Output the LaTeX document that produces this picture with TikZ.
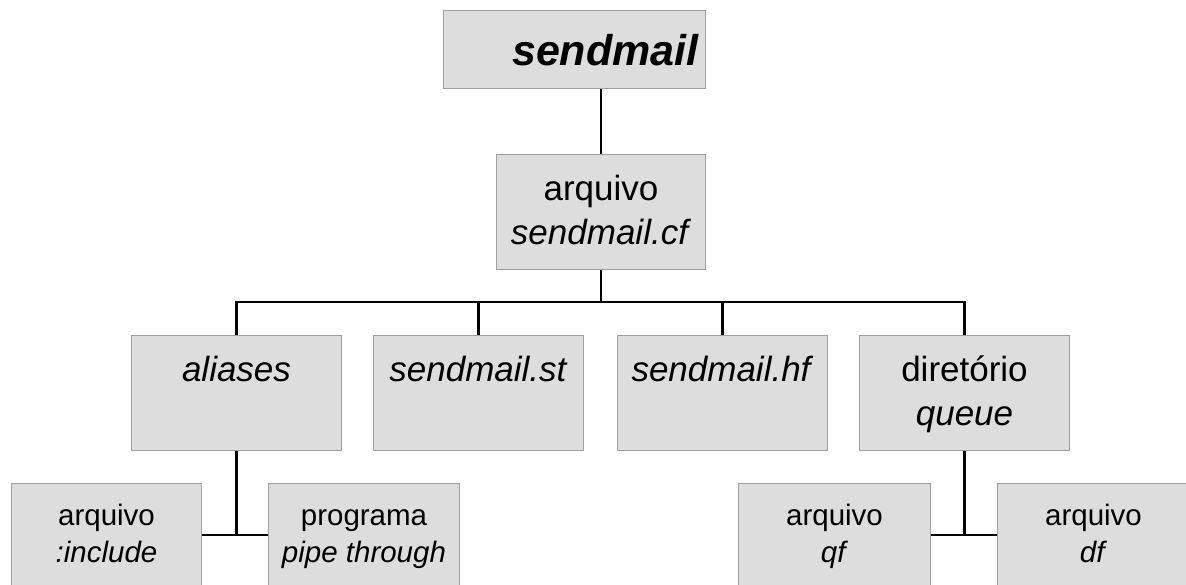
\documentclass[tikz,border=0pt]{standalone}
\usepackage{fontspec}
\setmainfont{Liberation Sans}
\usetikzlibrary{positioning}
\definecolor{boxgray}{RGB}{221,221,221}
\definecolor{edgegray}{RGB}{160,160,160}

\begin{document}
\begin{tikzpicture}[x=1pt,y=-1pt]
  \tikzstyle{box}=[draw=edgegray,line width=1pt,fill=boxgray,inner sep=0pt,align=center,
    minimum width=210pt,anchor=north west]
  \tikzstyle{mid}=[box,font=\fontsize{35}{44}\selectfont,text height=90pt,text depth=25pt]
  \tikzstyle{midone}=[box,font=\fontsize{35}{44}\selectfont,text height=46pt,text depth=69pt]
  \tikzstyle{leaf}=[box,font=\fontsize{29.5}{37}\selectfont,minimum width=191pt,text height=79pt,text depth=36pt]
  \tikzstyle{wire}=[line width=2.8pt,black]
  \useasboundingbox (0,0) rectangle (1186,584);
  \node[box,font=\fontsize{43}{50}\selectfont\bfseries\itshape,text width=248pt,inner xsep=7pt,
    align=right,text height=55pt,text depth=23pt] (sendmail) at (443,10) {sendmail};
  \node[mid,minimum width=209pt] (cf) at (496,154) {arquivo\\\textit{sendmail.cf}};
  \node[midone] (aliases) at (131,335) {\textit{aliases}};
  \node[midone] (st) at (373,335) {\textit{sendmail.st}};
  \node[midone] (hf) at (617,335) {\textit{sendmail.hf}};
  \node[mid] (queue) at (859,335) {diret\'orio\\\textit{queue}};
  \node[leaf,minimum width=190pt] (include) at (11,483) {arquivo\\\textit{:include}};
  \node[leaf] (pipe) at (268,483) {programa\\\textit{pipe through}};
  \node[leaf,minimum width=192pt] (qf) at (738,483) {arquivo\\\textit{qf}};
  \node[leaf,minimum width=192pt] (df) at (997,483) {arquivo\\\textit{df}};
  % ligacoes
  \coordinate (bus) at (600,302);
  \draw[wire] (sendmail.south -| cf.north) -- (cf.north);
  \draw[wire] (cf.south) -- (cf.south |- bus);
  \draw[wire] (aliases.north) -- (aliases.north |- bus) -- (queue.north |- bus) -- (queue.north);
  \draw[wire] (st.north) -- (st.north |- bus);
  \draw[wire] (hf.north) -- (hf.north |- bus);
  \coordinate (ajoin) at ([yshift=-84pt]aliases.south);
  \coordinate (qjoin) at ([yshift=-84pt]queue.south);
  \draw[wire] (aliases.south) -- (ajoin);
  \draw[wire] (include.east |- ajoin) -- (pipe.west |- ajoin);
  \draw[wire] (queue.south) -- (qjoin);
  \draw[wire] (qf.east |- qjoin) -- (df.west |- qjoin);
\end{tikzpicture}
\end{document}
